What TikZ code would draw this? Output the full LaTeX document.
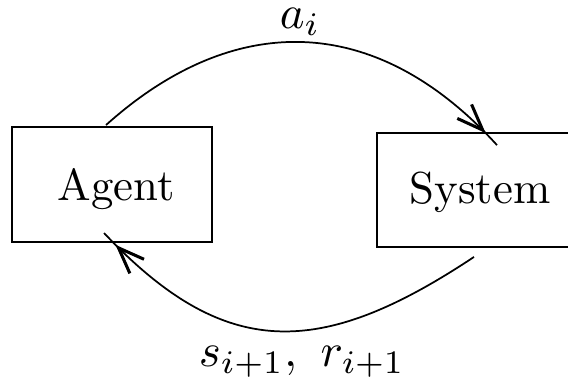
\documentclass[tikz,border=0pt]{standalone}
\usetikzlibrary{arrows.meta,decorations.markings,calc}
\begin{document}
\begin{tikzpicture}[x=0.23pt,y=-0.23pt,
  box/.style={draw, line width=0.45pt, inner sep=0pt, text depth=0pt},
  lbl/.style={anchor=base},
  arc/.style={line width=0.4pt, postaction={decorate},
    decoration={markings, mark=at position -3.8pt with
      {\arrow{Straight Barb[length=6pt,width=4.6pt,line width=0.7pt]}}}}]
\useasboundingbox (0,0) rectangle (568,376);
\clip (0,0) rectangle (568,376);
\node[box, minimum width=46pt, minimum height=26.45pt, text height=7.3pt] (agent) at (112,184.5) {\hspace*{2pt}\scalebox{1.03}{Agent}};
\node[box, minimum width=47.4pt, minimum height=26.2pt, text height=6.2pt] (system) at (480,190) {\scalebox{1.03}{System}};
\coordinate (a1) at ($(agent.north west)+(95,-1)$);
\coordinate (a2) at ($(system.north west)+(121,13)$);
\coordinate (s1) at ($(system.south west)+(98,9)$);
\coordinate (s2) at ($(agent.south west)+(93,-10)$);
\draw[arc] (a1) .. controls +(127,-114) and +(-122,-134) .. (a2);
\draw[arc] (s1) .. controls +(-155,103) and +(120,127) .. (s2);
\node[lbl] (act) at (300,28) {\scalebox{1.08}{$a_i$}};
\node[lbl] (obs) at (302,366) {\scalebox{1.08}{$s_{i+1},\ r_{i+1}$}};
\end{tikzpicture}
\end{document}
